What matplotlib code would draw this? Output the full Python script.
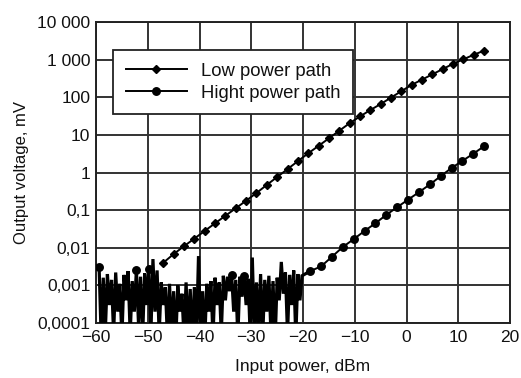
import numpy as np
import matplotlib
matplotlib.use("Agg")
import matplotlib.pyplot as plt
from matplotlib.lines import Line2D
from matplotlib.ticker import FixedLocator, NullLocator

plt.rcParams['font.family'] = ['Liberation Sans', 'DejaVu Sans']

# ---------------- data ----------------
low_x = [-47, -45, -43, -41, -39, -37, -35, -33, -31, -29, -27, -25, -23, -21,
         -19, -17, -15, -13, -11, -9, -7, -5, -3, -1, 1, 3, 5, 7, 9, 11, 13, 15]
low_y = [0.0040, 0.0068, 0.0110, 0.0175, 0.0280, 0.0447, 0.0708, 0.112, 0.178,
         0.285, 0.468, 0.76, 1.23, 2.0, 3.24, 5.1, 8.1, 12.9, 20.4, 30.9, 45.7,
         66, 98, 145, 214, 295, 407, 562, 776, 1023, 1349, 1738]

high_x = [-18.6, -16.5, -14.4, -12.3, -10.2, -8.1, -6.0, -3.9, -1.8, 0.3, 2.4,
          4.5, 6.6, 8.7, 10.8, 12.9, 15.0]
high_y = [0.0024, 0.0032, 0.0058, 0.0105, 0.017, 0.028, 0.045, 0.075, 0.12,
          0.19, 0.30, 0.48, 0.80, 1.32, 2.04, 3.16, 5.0]

noise_start, noise_step = -59.4, 0.4
noise_y = [
    0.0030, 0.00004, 0.0016, 0.00006, 0.0020, 0.0003, 0.0014, 0.00005, 0.0022, 0.0002,
    0.0011, 0.00004, 0.0019, 0.0004, 0.0024, 0.00005, 0.0013, 0.0002, 0.0026, 0.0001,
    0.0017, 0.00004, 0.0021, 0.0003, 0.0028, 0.00005, 0.0050, 0.0002, 0.0025, 0.00005,
    0.0012, 0.0003, 0.0009, 0.00004, 0.0011, 0.00006, 0.0007, 0.00003, 0.0010, 0.0002,
    0.0006, 0.00004, 0.0012, 0.00005, 0.0008, 0.00003, 0.0009, 0.00004, 0.0060, 0.00005,
    0.0007, 0.00003, 0.0011, 0.0002, 0.0013, 0.00004, 0.0016, 0.0003, 0.0012, 0.00005,
    0.0018, 0.0004, 0.0017, 0.0007, 0.0019, 0.0002, 0.0014, 0.00004, 0.0017, 0.0005,
    0.0018, 0.0003, 0.0015, 0.00004, 0.0055, 0.00005, 0.0012, 0.00006, 0.0020, 0.00004,
    0.0014, 0.0002, 0.0018, 0.00005, 0.0013, 0.00003, 0.0016, 0.0004, 0.0042, 0.0006,
    0.0022, 0.00005, 0.0019, 0.0003, 0.0025, 0.00004, 0.0020, 0.0004, 0.0018,
]
noise_marker_idx = [0, 18, 24, 64, 70]

y_ticks = [1e-4, 1e-3, 1e-2, 1e-1, 1, 10, 100, 1000, 10000]
y_labels = ["0,0001", "0,001", "0,01", "0,1", "1", "10", "100", "1 000", "10 000"]
x_ticks = [-60, -50, -40, -30, -20, -10, 0, 10, 20]
x_labels = ["\u221260", "\u221250", "\u221240", "\u221230", "\u221220", "\u221210", "0", "10", "20"]

# ---------------- plot ----------------
noise_x = np.round(noise_start + noise_step * np.arange(len(noise_y)), 2)

fig = plt.figure(figsize=(5.21, 3.78), dpi=100)
ax = fig.add_axes([0.1843, 0.1455, 0.7947, 0.7963])

ax.set_yscale('log')
ax.set_xlim(-60, 20)
ax.set_ylim(1e-4, 1e4)

# high power path: noise floor + trend
ax.plot(list(noise_x) + high_x[:1], list(noise_y) + high_y[:1],
        color='black', lw=2.3, zorder=3, solid_joinstyle='miter')
ax.plot(high_x, high_y, color='black', lw=1.4, marker='o', ms=5.4, zorder=4)
ax.plot([noise_x[i] for i in noise_marker_idx], [noise_y[i] for i in noise_marker_idx],
        ls='none', marker='o', ms=5.4, color='black', zorder=4)

# low power path
ax.plot(low_x, low_y, color='black', lw=1.4, marker='D', ms=4.3, zorder=4)

ax.yaxis.set_major_locator(FixedLocator(y_ticks))
ax.yaxis.set_minor_locator(NullLocator())
ax.set_yticklabels(y_labels)
ax.set_xticks(x_ticks)
ax.set_xticklabels(x_labels)
ax.tick_params(axis='y', length=0, labelsize=12.5, pad=4, colors='#111111')
ax.tick_params(axis='x', length=0, labelsize=12.5, pad=5, colors='#111111')
ax.grid(True, which='major', color='#333333', lw=1.4)
ax.set_axisbelow(True)
for s in ax.spines.values():
    s.set_color('#222222')
    s.set_linewidth(1.4)

ax.set_xlabel("Input power, dBm", fontsize=12.5, labelpad=10, color='#111111')
ax.set_ylabel("Output voltage, mV", fontsize=12, labelpad=6, color='#111111')

handles = [Line2D([], [], color='black', lw=1.4, marker='D', ms=4.3),
           Line2D([], [], color='black', lw=1.4, marker='o', ms=5.4)]
leg = ax.legend(handles, ["Low power path", "Hight power path"], loc='upper left',
                bbox_to_anchor=(0.041, 0.907), fontsize=13.3, handlelength=3.3,
                handletextpad=0.75, borderpad=0.7, labelspacing=0.25,
                fancybox=False, framealpha=1, edgecolor='#222222', borderaxespad=0)
leg.get_frame().set_linewidth(1.3)
leg.set_zorder(5)
for t in leg.get_texts():
    t.set_color('#111111')

fig.savefig("out.png", dpi=100)
